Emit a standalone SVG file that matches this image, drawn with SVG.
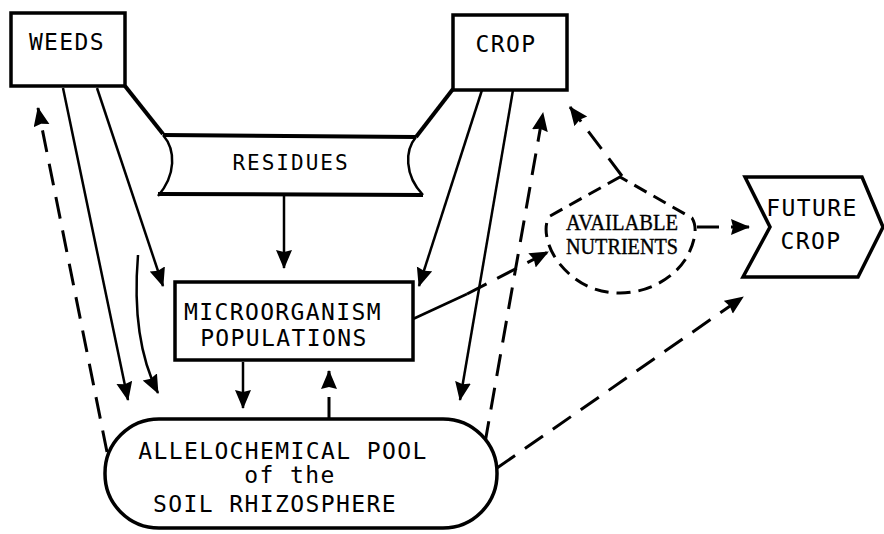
<svg xmlns="http://www.w3.org/2000/svg" width="884" height="534" viewBox="0 0 884 534">
<defs>
<marker id="ah" markerUnits="userSpaceOnUse" markerWidth="20" markerHeight="18" refX="18" refY="8" orient="auto">
<path d="M0,0 L19,8 L0,16 L2,8 Z" fill="#000" stroke="none"/>
</marker>
</defs>
<style>
.box{fill:#fff;stroke:#000;stroke-width:3.5}
.lbl{font-family:"DejaVu Sans Mono","Liberation Mono",monospace;font-size:23px;letter-spacing:1.4px;text-anchor:middle;fill:#000}
.sm{font-size:21px;letter-spacing:2px}
.ser{font-family:"Liberation Serif",serif;font-size:23px;text-anchor:middle;fill:#000;stroke:#000;stroke-width:0.4}
.sol{fill:none;stroke:#000;stroke-width:2.5}
.thk{fill:none;stroke:#000;stroke-width:4}
.dsh{fill:none;stroke:#000;stroke-width:3;stroke-dasharray:22 12}
</style>
<rect width="884" height="534" fill="#fff"/>
<g id="connectors">
<path class="thk" d="M125,86 L163,134"/>
<path class="thk" d="M453,89 L416,137"/>
<path class="sol" d="M63,88 L128,400" marker-end="url(#ah)"/>
<path class="sol" d="M97,88 L163,286" marker-end="url(#ah)"/>
<path class="sol" d="M138,255 Q131,340 158,393" marker-end="url(#ah)"/>
<path class="dsh" d="M107,452 L38,108" marker-end="url(#ah)"/>
<path class="sol" d="M284,195 L284,268" marker-end="url(#ah)"/>
<path class="sol" d="M482,90 L419,286" marker-end="url(#ah)"/>
<path class="sol" d="M513,90 L460,400" marker-end="url(#ah)"/>
<path class="dsh" d="M485,443 L543,113" marker-end="url(#ah)"/>
<path class="sol" d="M243,362 L243,408" marker-end="url(#ah)"/>
<path class="dsh" d="M329,419 L329,371" stroke-dasharray="14 8" marker-end="url(#ah)"/>
<path class="sol" d="M413,319 L467,294"/>
<path class="dsh" d="M467,294 L548,252" stroke-dasharray="20 12" marker-end="url(#ah)"/>
<path class="dsh" d="M622,176 L570,107" stroke-dasharray="20 10" marker-end="url(#ah)"/>
<path class="dsh" d="M697,227 L749,227" stroke-dasharray="12 8" marker-end="url(#ah)"/>
<path class="dsh" d="M497,468 L743,297" marker-end="url(#ah)"/>
</g>
<g id="weeds">
<rect class="box" x="11" y="13" width="114" height="73"/>
<text class="lbl" x="67" y="50">WEEDS</text>
</g>
<g id="crop">
<rect class="box" x="453" y="15" width="114" height="75"/>
<text class="lbl" x="506" y="52">CROP</text>
</g>
<g id="residues">
<path d="M163,135 L416,137 C405,150 404,175 423,195 L158,195 C176,175 176,150 163,135 Z" fill="#fff" stroke="none"/>
<path class="thk" d="M163,135 L416,137"/>
<path class="thk" d="M158,194 L423,195"/>
<path class="sol" d="M163,135 C176,150 176,175 158,196" stroke-width="3.5"/>
<path class="sol" d="M416,137 C405,150 404,175 423,195" stroke-width="3.5"/>
<text class="lbl sm" x="291" y="170">RESIDUES</text>
</g>
<g id="micro">
<rect class="box" x="175" y="282" width="238" height="78" stroke-width="3"/>
<text class="lbl" x="283" y="320">MICROORGANISM</text>
<text class="lbl" x="284" y="346">POPULATIONS</text>
</g>
<g id="allelo">
<rect class="box" x="105" y="419" width="392" height="109" rx="54" ry="54" stroke-width="3"/>
<text class="lbl" x="283" y="459">ALLELOCHEMICAL POOL</text>
<text class="lbl" x="290" y="483">of the</text>
<text class="lbl" x="275" y="512">SOIL RHIZOSPHERE</text>
</g>
<g id="nutrients">
<path d="M620,177 L550,216 C543,224 545,245 559,263 C575,283 595,293 620,293 C650,293 678,276 689,253 C696,238 697,226 692,218 Z" fill="#fff" stroke="#000" stroke-width="3" stroke-dasharray="14 8"/>
<text class="ser" x="622" y="230" textLength="112" lengthAdjust="spacingAndGlyphs">AVAILABLE</text>
<text class="ser" x="622" y="254" textLength="112" lengthAdjust="spacingAndGlyphs">NUTRIENTS</text>
</g>
<g id="future">
<path d="M745,177 L862,177 L883,227 L858,277 L743,277 L770,227 Z" fill="#fff" stroke="#000" stroke-width="3.5"/>
<text class="lbl" x="812" y="216">FUTURE</text>
<text class="lbl" x="811" y="249">CROP</text>
</g>
</svg>
